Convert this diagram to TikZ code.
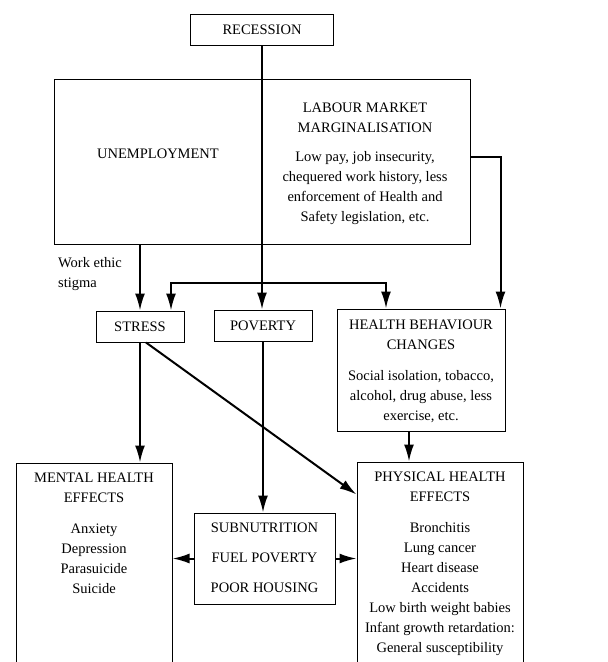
\documentclass[tikz,border=0pt]{standalone}
\usepackage{fontspec}
\setmainfont{Liberation Serif}
\usetikzlibrary{arrows.meta}

\begin{document}
\begin{tikzpicture}[x=1pt,y=-1pt,>={Latex[length=17pt,width=10pt]},
  box/.style={rectangle,draw,line width=1pt,inner sep=0pt,font=\fontsize{14.5}{20}\selectfont},
  txt/.style={align=center,inner sep=0pt,anchor=north,font=\fontsize{14.5}{20}\selectfont},
  arr/.style={->,line width=2pt}]

  \useasboundingbox (0,0) rectangle (608,662);

  \node[box,minimum width=143,minimum height=31] (rec) at (262,29.5) {RECESSION};
  \node[box,minimum width=416,minimum height=165] (work) at (262,161.5) {};
  \node[txt,anchor=center] (unemp) at (158,154) {UNEMPLOYMENT};
  \node[txt] (lmmt) at (365,103) {LABOUR MARKET\\MARGINALISATION};
  \node[txt] (lmmb) at (365,151) {Low pay, job insecurity,\\chequered work history, less\\enforcement of Health and\\Safety legislation, etc.};
  \node[txt,anchor=north west,align=left] (stigma) at (58,257) {Work ethic\\stigma};

  \node[box,minimum width=88,minimum height=31] (stress) at (140,326.5) {STRESS};
  \node[box,minimum width=98,minimum height=31] (pov) at (263,325.5) {POVERTY};
  \node[box,minimum width=168,minimum height=122] (hbc) at (421,370) {};
  \node[txt] (hbct) at (421,320) {HEALTH BEHAVIOUR\\CHANGES};
  \node[txt] (hbcb) at (421,370) {Social isolation, tobacco,\\alcohol, drug abuse, less\\exercise, etc.};

  \node[box,minimum width=156,minimum height=207] (mental) at (94,566.5) {};
  \node[txt] (mentalt) at (94,473) {MENTAL HEALTH\\EFFECTS};
  \node[txt] (mentalb) at (94,524) {Anxiety\\Depression\\Parasuicide\\Suicide};
  \node[box,minimum width=141,minimum height=91] (sub) at (264.5,558.5) {};
  \node[txt,font=\fontsize{14.5}{30}\selectfont] (subt) at (264.5,523) {SUBNUTRITION\\FUEL POVERTY\\POOR HOUSING};
  \node[box,minimum width=166,minimum height=208] (phys) at (440,566) {};
  \node[txt] (physt) at (440,472) {PHYSICAL HEALTH\\EFFECTS};
  \node[txt] (physb) at (440,522) {Bronchitis\\Lung cancer\\Heart disease\\Accidents\\Low birth weight babies\\Infant growth retardation:\\General susceptibility};

  \coordinate (fork) at (262,283);

  \draw[arr] (rec.south) -- (rec.south |- pov.north);
  \draw[arr] (fork) -| ([xshift=31pt]stress.north);
  \draw[arr] (fork) -| ([xshift=-35pt]hbc.north);
  \draw[arr] (work.south -| stress.north) -- (stress.north);
  \draw[arr] ([yshift=4.5pt]work.east) -| ([xshift=-5pt]hbc.north east);
  \draw[arr] (stress.south) -- (stress.south |- mental.north);
  \draw[arr] ([xshift=6pt]stress.south) -- ([yshift=-33pt]phys.north west);
  \draw[arr] (pov.south) -- (pov.south |- sub.north);
  \draw[arr] ([xshift=-12pt]hbc.south) -- ([xshift=-12pt]hbc.south |- phys.north);
  \draw[arr] (sub.west) -- (sub.west -| mental.east);
  \draw[arr] (sub.east) -- (sub.east -| phys.west);

\end{tikzpicture}
\end{document}
